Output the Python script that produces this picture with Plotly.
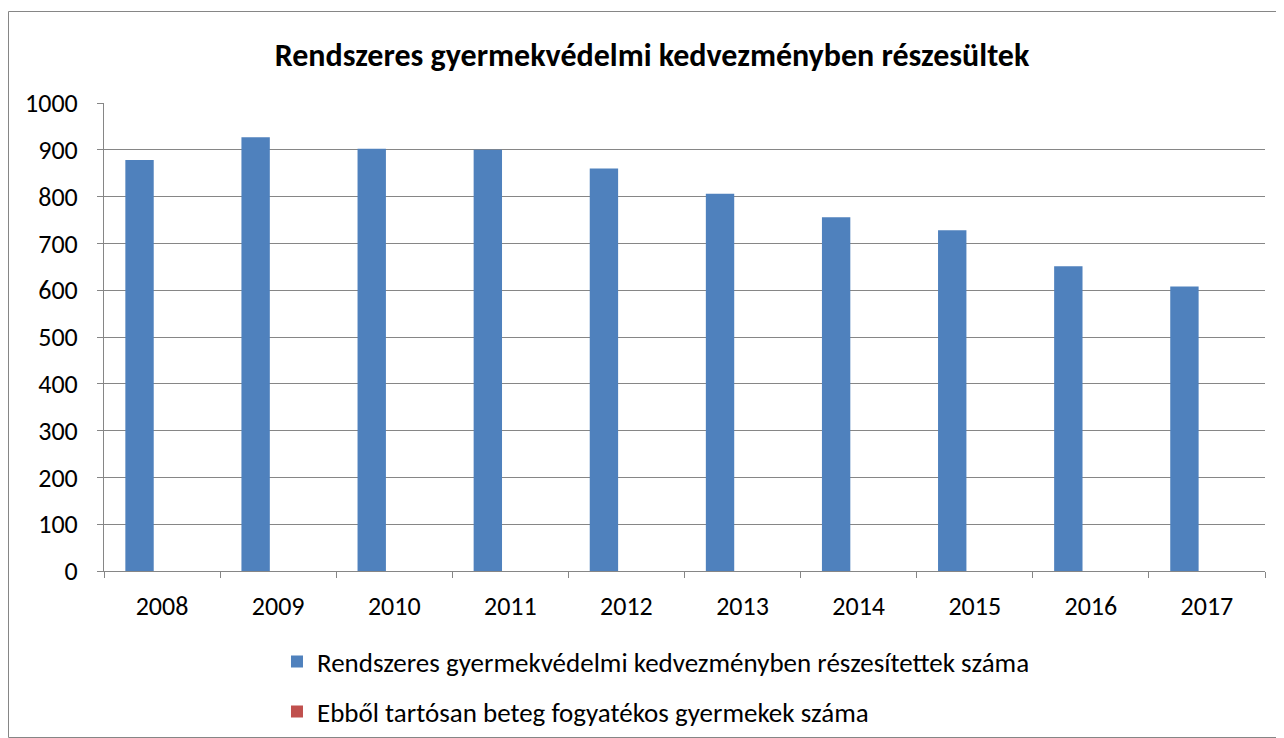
import plotly.graph_objects as go

years = ["2008", "2009", "2010", "2011", "2012", "2013", "2014", "2015", "2016", "2017"]
reszesitettek = [878, 927, 902, 900, 860, 806, 756, 728, 651, 608]
beteg = [None, None, None, None, None, None, None, None, None, None]

title_text = "Rendszeres gyermekvédelmi kedvezményben részesültek"
name1 = "Rendszeres gyermekvédelmi kedvezményben részesítettek száma"
name2 = "Ebből tartósan beteg fogyatékos gyermekek száma"

FONT = "Calibri, Carlito, Lato, 'Open Sans', sans-serif"
GRID = "#868686"

fig = go.Figure()
fig.add_trace(go.Bar(x=years, y=reszesitettek, name=name1,
                     marker=dict(color="#4F81BD", line=dict(width=0)),
                     legend="legend"))
fig.add_trace(go.Bar(x=years, y=beteg, name=name2,
                     marker=dict(color="#C0504D", line=dict(width=0)),
                     legend="legend2"))

legend_common = dict(orientation="v", xanchor="left", yanchor="middle",
                     font=dict(size=27, family=FONT, color="#000000"),
                     bgcolor="rgba(0,0,0,0)")

fig.update_layout(
    width=1276, height=780,
    margin=dict(l=96, r=19, t=95, b=217),
    paper_bgcolor="white", plot_bgcolor="white",
    font=dict(family=FONT, size=26, color="#000000"),
    barmode="group", bargap=0.224, bargroupgap=0.37,
    title=dict(text="<b>" + title_text + "</b>", x=644 / 1276, xref="container",
               xanchor="center", y=1 - 47 / 780, yref="container", yanchor="middle",
               font=dict(size=32, family=FONT, color="#000000")),
    legend=dict(x=0.149, y=(571 - 662) / 468, **legend_common),
    legend2=dict(x=0.149, y=(571 - 712) / 468, **legend_common),
    showlegend=True,
)
fig.update_xaxes(showline=True, linecolor=GRID, linewidth=1, showgrid=False,
                 ticks="outside", ticklen=6, tickcolor=GRID, tickson="boundaries",
                 ticklabelstandoff=12, zeroline=False)
fig.update_yaxes(range=[0, 1000], dtick=100, showline=True, linecolor=GRID, linewidth=1,
                 showgrid=True, gridcolor=GRID, gridwidth=1,
                 ticks="outside", ticklen=6, tickcolor=GRID,
                 ticklabelstandoff=14, zeroline=False)

fig.add_shape(type="rect", xref="paper", yref="paper",
              x0=(8.5 - 104) / 1161, x1=(1283 - 104) / 1161,
              y0=(571 - 737.5) / 468, y1=1 + (103 - 11.5) / 468,
              line=dict(color=GRID, width=1), fillcolor="rgba(0,0,0,0)", layer="below")

fig.write_html("out.html")
